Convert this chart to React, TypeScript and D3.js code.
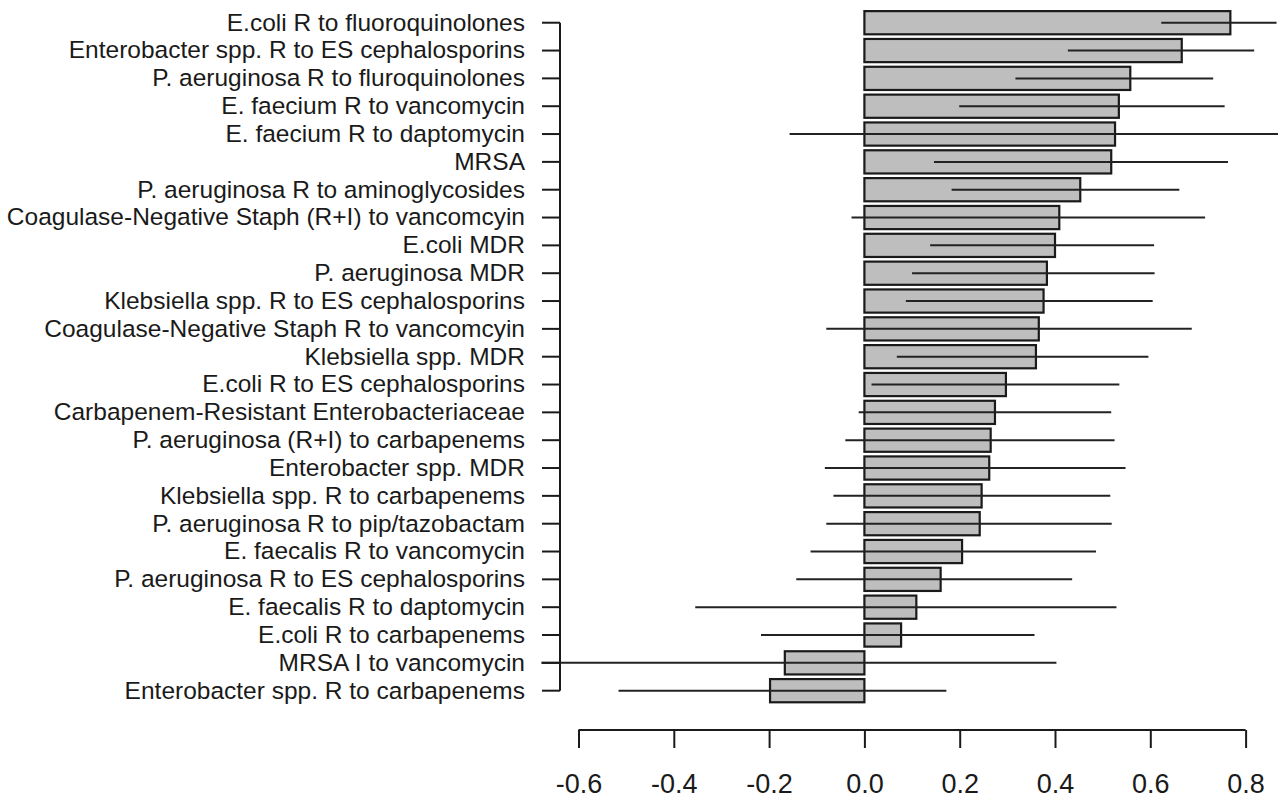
import React, { useEffect, useRef } from "react";
import * as d3 from "d3";

const width = 1287;
const height = 800;

// categories, top to bottom
const labels = [
  "E.coli R to fluoroquinolones",
  "Enterobacter spp. R to ES cephalosporins",
  "P. aeruginosa R to fluroquinolones",
  "E. faecium R to vancomycin",
  "E. faecium R to daptomycin",
  "MRSA",
  "P. aeruginosa R to aminoglycosides",
  "Coagulase-Negative Staph (R+I) to vancomcyin",
  "E.coli MDR",
  "P. aeruginosa MDR",
  "Klebsiella spp. R to ES cephalosporins",
  "Coagulase-Negative Staph R to vancomcyin",
  "Klebsiella spp. MDR",
  "E.coli R to ES cephalosporins",
  "Carbapenem-Resistant Enterobacteriaceae",
  "P. aeruginosa (R+I) to carbapenems",
  "Enterobacter spp. MDR",
  "Klebsiella spp. R to carbapenems",
  "P. aeruginosa R to pip/tazobactam",
  "E. faecalis R to vancomycin",
  "P. aeruginosa R to ES cephalosporins",
  "E. faecalis R to daptomycin",
  "E.coli R to carbapenems",
  "MRSA I to vancomycin",
  "Enterobacter spp. R to carbapenems",
];

const estimates = [
  0.768, 0.666, 0.558, 0.534, 0.526, 0.518, 0.453, 0.409, 0.4, 0.383, 0.376,
  0.366, 0.36, 0.297, 0.274, 0.265, 0.262, 0.246, 0.242, 0.205, 0.16, 0.109,
  0.077, -0.167, -0.198,
];

const lower = [
  0.623, 0.427, 0.317, 0.199, -0.157, 0.146, 0.183, -0.027, 0.138, 0.1, 0.087,
  -0.08, 0.068, 0.015, -0.012, -0.04, -0.083, -0.065, -0.08, -0.113, -0.143,
  -0.355, -0.217, -0.678, -0.516,
];

const upper = [
  0.865, 0.818, 0.732, 0.756, 0.868, 0.763, 0.661, 0.715, 0.608, 0.609, 0.605,
  0.687, 0.596, 0.535, 0.518, 0.525, 0.548, 0.516, 0.519, 0.486, 0.436, 0.529,
  0.357, 0.403, 0.172,
];

const xTicks = [-0.6, -0.4, -0.2, 0.0, 0.2, 0.4, 0.6, 0.8];

const font = "'Liberation Sans', Arial, sans-serif";
const ink = "#1a1a1a";

export default function App() {
  const ref = useRef<SVGSVGElement>(null);

  useEffect(() => {
    const svg = d3.select(ref.current);
    svg.selectAll("*").remove();

    // ------- scales -------
    const x = d3.scaleLinear().domain([-0.6, 0.8]).range([578.5, 1245.6]);
    const y = d3
      .scaleBand<string>()
      .domain(labels)
      .range([8.8, 704.6])
      .paddingInner(1 / 6)
      .paddingOuter(1 / 12);

    const rows = labels.map((name, i) => ({
      name,
      est: estimates[i],
      lo: lower[i],
      hi: upper[i],
    }));

    // ------- bars -------
    svg
      .append("g")
      .selectAll("rect")
      .data(rows)
      .join("rect")
      .attr("x", (d) => x(Math.min(0, d.est)))
      .attr("y", (d) => y(d.name)!)
      .attr("width", (d) => Math.abs(x(d.est) - x(0)))
      .attr("height", y.bandwidth())
      .attr("fill", "#bebebe")
      .attr("stroke", ink)
      .attr("stroke-width", 2.2);

    // ------- interval lines -------
    svg
      .append("g")
      .selectAll("line")
      .data(rows)
      .join("line")
      .attr("x1", (d) => x(d.lo))
      .attr("x2", (d) => x(d.hi))
      .attr("y1", (d) => y(d.name)! + y.bandwidth() / 2)
      .attr("y2", (d) => y(d.name)! + y.bandwidth() / 2)
      .attr("stroke", "#222")
      .attr("stroke-width", 2);

    // ------- y axis -------
    const yAxis = d3.axisLeft(y).tickSize(18).tickPadding(17).tickSizeOuter(0);
    const gy = svg.append("g").attr("transform", "translate(560,0)").call(yAxis);
    gy.select(".domain").remove();
    const first = y(labels[0])! + y.bandwidth() / 2;
    const last = y(labels[labels.length - 1])! + y.bandwidth() / 2;
    gy.append("line")
      .attr("y1", first)
      .attr("y2", last)
      .attr("stroke", ink)
      .attr("stroke-width", 2);
    gy.selectAll(".tick line").attr("stroke", ink).attr("stroke-width", 2);
    gy.selectAll(".tick text")
      .attr("fill", ink)
      .style("font-family", font)
      .style("font-size", "24.5px");

    // ------- x axis -------
    const xAxis = d3
      .axisBottom(x)
      .tickValues(xTicks)
      .tickFormat((d) => (+d).toFixed(1))
      .tickSize(18)
      .tickPadding(45)
      .tickSizeOuter(0);
    const gx = svg.append("g").attr("transform", "translate(0,730)").call(xAxis);
    gx.select(".domain").remove();
    gx.append("line")
      .attr("x1", x(xTicks[0]))
      .attr("x2", x(xTicks[xTicks.length - 1]))
      .attr("stroke", ink)
      .attr("stroke-width", 2);
    gx.selectAll(".tick line").attr("stroke", ink).attr("stroke-width", 2);
    gx.selectAll(".tick text")
      .attr("fill", ink)
      .attr("dy", "0")
      .style("font-family", font)
      .style("font-size", "27px");
  }, []);

  return (
    <svg
      ref={ref}
      width={width}
      height={height}
      style={{ position: "absolute", left: 0, top: 0, background: "#fff" }}
    />
  );
}
